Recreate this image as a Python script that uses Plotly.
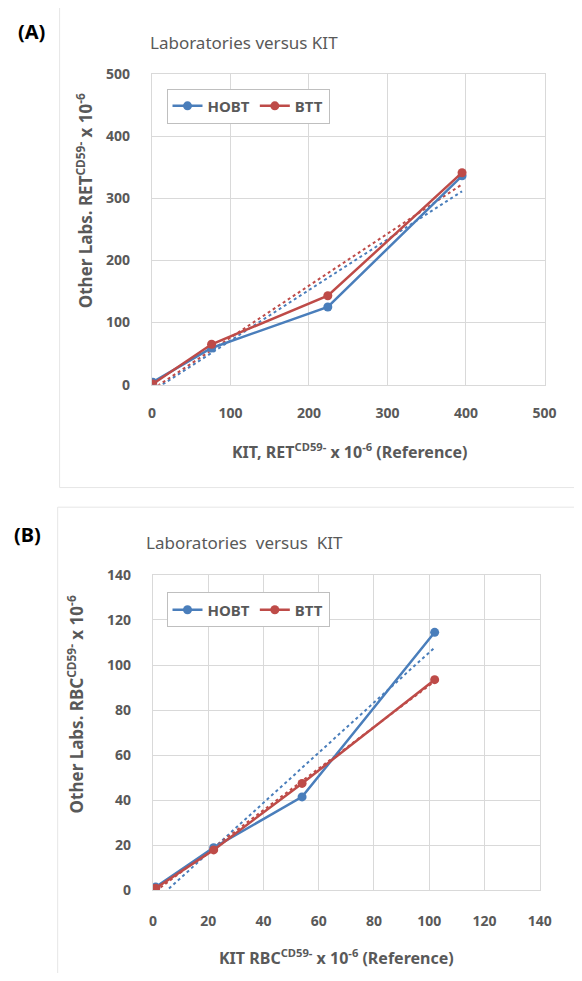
import numpy as np
import plotly.graph_objects as go

# ---- data ----
a_x = [1, 76, 224, 395]
a_hobt = [4, 59, 125, 336]
a_btt = [1, 65, 143, 341]

b_x = [1, 22, 54, 102]
b_hobt = [1.5, 19, 41.5, 114.5]
b_btt = [1, 18, 47.5, 93.5]

a_ticks = [0, 100, 200, 300, 400, 500]
b_ticks = [0, 20, 40, 60, 80, 100, 120, 140]

BLUE = "#4a7ebb"
RED = "#be4b48"
GRID = "#d9d9d9"
TXT = "#595959"
FONT = "Noto Sans"

# page is 582x981; the html body adds an 8px margin around the figure
OFF = 8
W, H = 582 - 2 * OFF, 981 - 2 * OFF


def px(x):
    return (x - OFF) / W


def py(y):
    return 1 - (y - OFF) / H


def trend(x, y):
    k, b = np.polyfit(x, y, 1)
    xs = np.array([min(x), max(x)], dtype=float)
    return xs, k * xs + b


fig = go.Figure()

# Panel A
for name, ys, col in [("HOBT", a_hobt, BLUE), ("BTT", a_btt, RED)]:
    tx, ty = trend(a_x, ys)
    fig.add_trace(go.Scatter(x=tx, y=ty, mode="lines", line=dict(color=col, width=2, dash="dot"),
                             showlegend=False, xaxis="x", yaxis="y", hoverinfo="skip"))
for name, ys, col in [("HOBT", a_hobt, BLUE), ("BTT", a_btt, RED)]:
    fig.add_trace(go.Scatter(x=a_x, y=ys, mode="lines+markers", name=name,
                             line=dict(color=col, width=2.5), marker=dict(size=9, color=col),
                             xaxis="x", yaxis="y", legend="legend"))

# Panel B
for name, ys, col in [("HOBT", b_hobt, BLUE), ("BTT", b_btt, RED)]:
    tx, ty = trend(b_x, ys)
    fig.add_trace(go.Scatter(x=tx, y=ty, mode="lines", line=dict(color=col, width=2, dash="dot"),
                             showlegend=False, xaxis="x2", yaxis="y2", hoverinfo="skip"))
for name, ys, col in [("HOBT", b_hobt, BLUE), ("BTT", b_btt, RED)]:
    fig.add_trace(go.Scatter(x=b_x, y=ys, mode="lines+markers", name=name,
                             line=dict(color=col, width=2.5), marker=dict(size=9, color=col),
                             xaxis="x2", yaxis="y2", legend="legend2"))

tickfont = dict(family=FONT, size=14, color=TXT, weight="bold")
axcommon = dict(showgrid=True, gridcolor=GRID, gridwidth=1, showline=True, linecolor=GRID,
                mirror=True, zeroline=False, tickfont=tickfont, ticks="outside",
                tickcolor="rgba(0,0,0,0)", fixedrange=True)

legfont = dict(family=FONT, size=15, color=TXT, weight="bold")

fig.update_layout(
    width=W, height=H,
    margin=dict(l=0, r=0, t=0, b=0),
    paper_bgcolor="white", plot_bgcolor="white",
    xaxis=dict(domain=[px(152), px(556)], range=[0, 500], tickvals=a_ticks, ticklen=16,
               anchor="y", **axcommon),
    yaxis=dict(domain=[py(382), py(65)], range=[0, 500], tickvals=a_ticks, ticklen=18,
               anchor="x", **axcommon),
    xaxis2=dict(domain=[px(153), px(551)], range=[0, 140], tickvals=b_ticks, ticklen=18,
                anchor="y2", **axcommon),
    yaxis2=dict(domain=[py(898), py(576)], range=[0, 140], tickvals=b_ticks, ticklen=18,
                anchor="x2", **axcommon),
    legend=dict(x=px(167), y=py(80), xanchor="left", yanchor="top", orientation="h",
                bordercolor="#bfbfbf", borderwidth=1, bgcolor="white", font=legfont,
                itemwidth=30, tracegroupgap=0),
    legend2=dict(x=px(167), y=py(594), xanchor="left", yanchor="top", orientation="h",
                 bordercolor="#bfbfbf", borderwidth=1, bgcolor="white", font=legfont,
                 itemwidth=30, tracegroupgap=0),
    showlegend=True,
)

ann = []


def add_text(x, y, text, size, color=TXT, bold=False, angle=0):
    ann.append(dict(x=px(x), y=py(y), xref="paper", yref="paper", text=text, showarrow=False,
                    xanchor="center", yanchor="middle", textangle=angle,
                    font=dict(family=FONT, size=size, color=color, weight="bold" if bold else "normal")))


add_text(28, 22, "(A)", 20, color="black", bold=True)
add_text(24, 535, "(B)", 20, color="black", bold=True)
add_text(247, 33, "Laboratories versus KIT", 17)
add_text(247, 543, "Laboratories  versus  KIT", 17)
add_text(356, 450, "KIT, RET<sup>CD59-</sup> x 10<sup>-6</sup> (Reference)", 16, bold=True)
add_text(342, 966, "KIT RBC<sup>CD59-</sup> x 10<sup>-6</sup> (Reference)", 16, bold=True)
add_text(82, 194, "Other Labs. RET<sup>CD59-</sup> x 10<sup>-6</sup>", 17, bold=True, angle=-90)
add_text(73, 708, "Other Labs. RBC<sup>CD59-</sup> x 10<sup>-6</sup>", 17, bold=True, angle=-90)
fig.update_layout(annotations=ann)

# chart-area frames
fig.add_shape(type="rect", xref="paper", yref="paper", x0=px(57), x1=px(600), y0=py(487), y1=py(-20),
              line=dict(color="#e6e6e6", width=1), layer="below")
fig.add_shape(type="rect", xref="paper", yref="paper", x0=px(55), x1=px(600), y0=py(1000), y1=py(507),
              line=dict(color="#e6e6e6", width=1), layer="below")

fig.write_html("out.html")
